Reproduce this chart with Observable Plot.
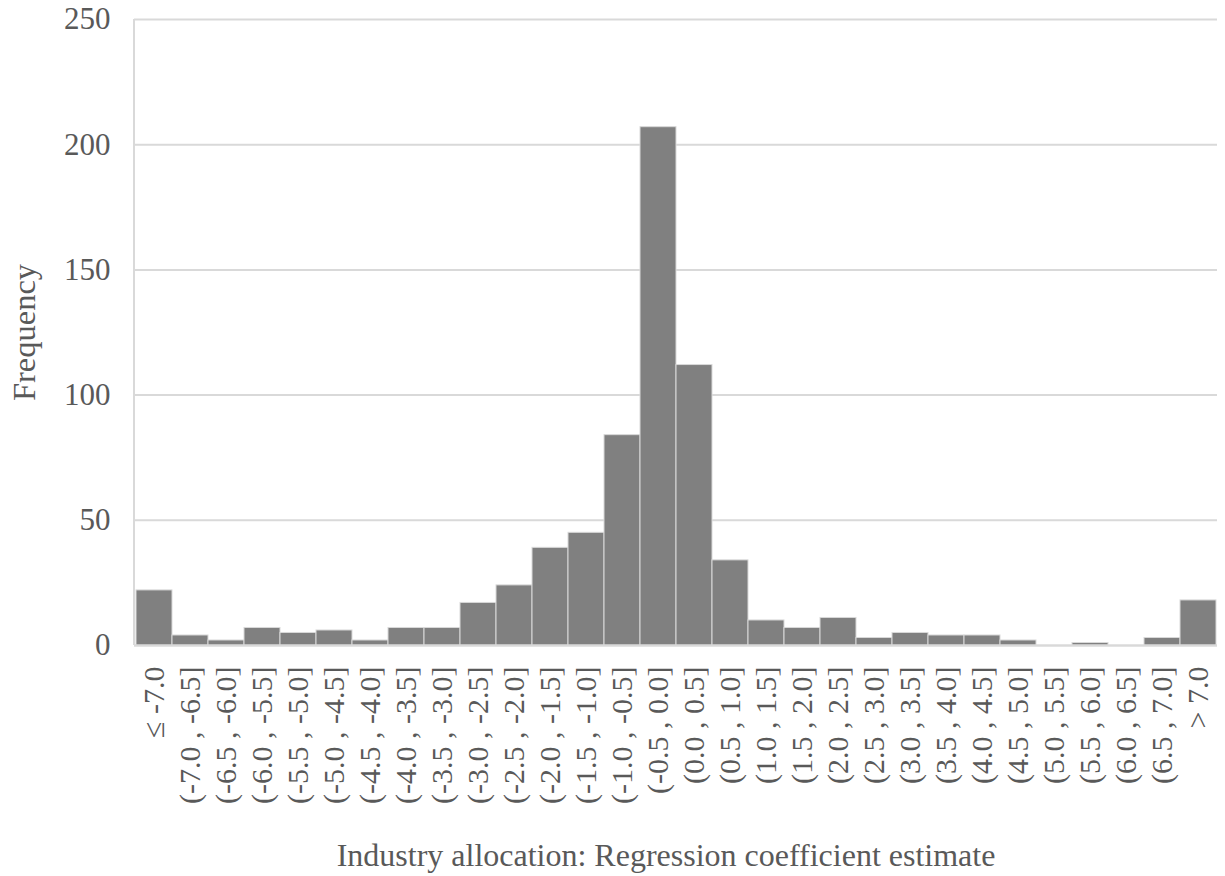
<!DOCTYPE html>
<html>
<head>
<meta charset="utf-8">
<script src="https://cdn.jsdelivr.net/npm/d3@7"></script>
<script src="https://cdn.jsdelivr.net/npm/@observablehq/plot@0.6"></script>
<style>
  html, body { margin: 0; padding: 0; background: #ffffff; }
</style>
</head>
<body>
<div id="chart"></div>
<script>
const categories = [
  "\u2264 -7.0", "(-7.0 , -6.5]", "(-6.5 , -6.0]", "(-6.0 , -5.5]", "(-5.5 , -5.0]",
  "(-5.0 , -4.5]", "(-4.5 , -4.0]", "(-4.0 , -3.5]", "(-3.5 , -3.0]", "(-3.0 , -2.5]",
  "(-2.5 , -2.0]", "(-2.0 , -1.5]", "(-1.5 , -1.0]", "(-1.0 , -0.5]", "(-0.5 , 0.0]",
  "(0.0 , 0.5]", "(0.5 , 1.0]", "(1.0 , 1.5]", "(1.5 , 2.0]", "(2.0 , 2.5]",
  "(2.5 , 3.0]", "(3.0 , 3.5]", "(3.5 , 4.0]", "(4.0 , 4.5]", "(4.5 , 5.0]",
  "(5.0 , 5.5]", "(5.5 , 6.0]", "(6.0 , 6.5]", "(6.5 , 7.0]", "> 7.0"
];
const frequencies = [
  22, 4, 2, 7, 5,
  6, 2, 7, 7, 17,
  24, 39, 45, 84, 207,
  112, 34, 10, 7, 11,
  3, 5, 4, 4, 2,
  0, 1, 0, 3, 18
];
const yTicks = [0, 50, 100, 150, 200, 250];
const xTitle = "Industry allocation: Regression coefficient estimate";
const yTitle = "Frequency";

const data = categories.map((c, i) => ({bin: c, freq: frequencies[i]}));

const chart = Plot.plot({
  width: 1225,
  height: 876,
  marginLeft: 134,
  marginRight: 8,
  marginTop: 19,
  marginBottom: 231,
  style: {
    fontFamily: "'Liberation Serif', 'Times New Roman', serif",
    fontSize: "31px",
    color: "#595959",
    background: "#ffffff"
  },
  x: {domain: categories, padding: 0, label: null},
  y: {domain: [0, 250], label: null},
  marks: [
    Plot.gridY(yTicks, {stroke: "#d9d9d9", strokeOpacity: 1, strokeWidth: 2}),
    Plot.barY(data, {x: "bin", y: "freq", fill: "#808080", stroke: "#d9d9d9", strokeWidth: 1}),
    Plot.ruleY([0], {stroke: "#d9d9d9", strokeWidth: 2}),
    Plot.axisY(yTicks, {tickSize: 0, tickPadding: 24, fontSize: 31, fill: "#595959", label: null}),
    Plot.axisX({tickRotate: -90, tickSize: 0, tickPadding: 21, fontSize: 30, fill: "#595959", label: null}),
    Plot.text([yTitle], {frameAnchor: "left", text: d => d, rotate: -90, textAnchor: "middle", dx: -110, fontSize: 32.5, fill: "#595959"}),
    Plot.text([xTitle], {frameAnchor: "bottom", text: d => d, dx: -10, dy: 220, fontSize: 32, fill: "#595959"})
  ]
});

// left axis line drawn from the plot's own scales
const xs = chart.scale("x");
const ysc = chart.scale("y");
d3.select(chart).append("line")
  .attr("x1", xs.range[0]).attr("x2", xs.range[0])
  .attr("y1", ysc.range[0]).attr("y2", ysc.range[1])
  .attr("stroke", "#d9d9d9").attr("stroke-width", 2);

document.getElementById("chart").appendChild(chart);
</script>
</body>
</html>
